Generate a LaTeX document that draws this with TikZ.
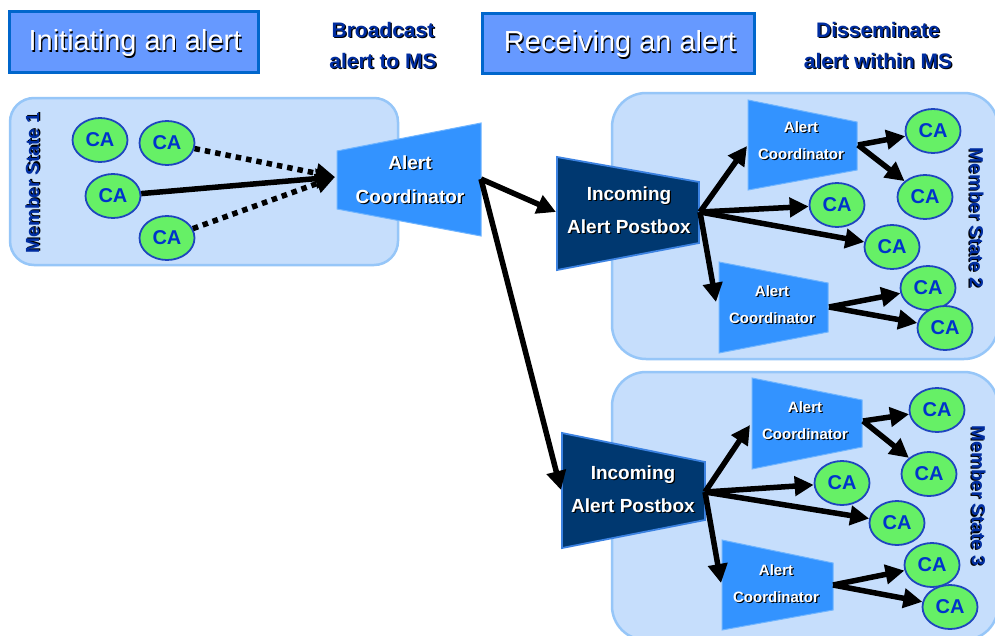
\documentclass[tikz,border=0pt]{standalone}
\usepackage{fontspec}
\setmainfont{Liberation Sans}
\usetikzlibrary{shapes.geometric,arrows.meta}

\definecolor{msfill}{RGB}{198,222,252}
\definecolor{msdraw}{RGB}{150,198,248}
\definecolor{titlefill}{RGB}{102,153,255}
\definecolor{titledraw}{RGB}{0,102,204}
\definecolor{acblue}{RGB}{51,147,255}
\definecolor{acedge}{RGB}{110,180,255}
\definecolor{pbnavy}{RGB}{0,56,112}
\definecolor{pbedge}{RGB}{60,130,225}
\definecolor{cagreen}{RGB}{102,240,102}
\definecolor{caborder}{RGB}{30,70,190}
\definecolor{catext}{RGB}{0,51,204}
\definecolor{headblue}{RGB}{0,45,160}

% text with a small dark drop shadow
\newcommand{\shd}[2][black]{\leavevmode\rlap{\kern1.2pt\raisebox{-1.2pt}{\textcolor{#1}{#2}}}#2}

\tikzset{
  msregion/.style={fill=msfill, draw=msdraw, line width=2.5pt, rounded corners=28pt},
  titlebox/.style={fill=titlefill, draw=titledraw, line width=3pt},
  titletext/.style={text=white, font=\fontsize{29}{34}\selectfont},
  headtext/.style={text=headblue, align=center, font=\fontsize{21}{31}\selectfont\bfseries},
  mslabel/.style={text=headblue, font=\fontsize{19}{22}\selectfont\bfseries},
  ca/.style={ellipse, fill=cagreen, draw=caborder, line width=1.8pt,
    minimum width=55pt, minimum height=44pt, inner sep=0pt, text=catext,
    font=\fontsize{20}{24}\selectfont\bfseries},
  acshape/.style={fill=acblue, draw=acedge, line width=1pt},
  pbshape/.style={fill=pbnavy, draw=pbedge, line width=1.8pt},
  bigtext/.style={text=white, align=center, font=\fontsize{19}{34}\selectfont\bfseries},
  pbtext/.style={text=white, align=center, font=\fontsize{19}{33}\selectfont\bfseries},
  smalltext/.style={text=white, align=center, font=\fontsize{15}{27}\selectfont\bfseries},
  flow/.style={line width=5.5pt, -{Triangle[length=19pt,width=19pt]}},
  dotflow/.style={flow, dash pattern=on 5.5pt off 5pt},
}

\begin{document}
\begin{tikzpicture}[x=1pt,y=-1pt]
\useasboundingbox (0,0) rectangle (995,635);
\fill[white] (0,0) rectangle (995,635);

% headings
\draw[titlebox] (9,11) rectangle (258,72);
\node[titletext] (initTitle) at (135,44) {\shd{Initiating an alert}};
\draw[titlebox] (482,13) rectangle (754,73);
\node[titletext] (recvTitle) at (620,45) {\shd{Receiving an alert}};
\node[headtext] (broadcast) at (383,46) {\shd{Broadcast}\\\shd{alert to MS}};
\node[headtext] (dissem) at (878,46) {\shd{Disseminate}\\\shd{alert within MS}};

% member state regions
\draw[msregion, rounded corners=24pt] (10,98) rectangle (398,265);
\draw[msregion, rounded corners=34pt] (612,93) rectangle (998,359);
\draw[msregion, rounded corners=34pt] (612,372) rectangle (998,640);
\node[mslabel, rotate=90] (ms1) at (33,183) {\shd{Member State 1}};
\node[mslabel, rotate=-90] (ms2) at (976,218) {\shd{Member State 2}};
\node[mslabel, rotate=-90] (ms3) at (978,496) {\shd{Member State 3}};

% central alert coordinator
\draw[acshape] (337,151) -- (481,123) -- (481,236) -- (337,209) -- cycle;
\node[bigtext] (acMain) at (410,180) {\shd{Alert}\\\shd{Coordinator}};
\coordinate (acMainIn) at (335,177);
\coordinate (acMainOut) at (481,179);

% incoming alert postboxes
\draw[pbshape] (557,157) -- (699,182) -- (699,243) -- (557,270) -- cycle;
\node[pbtext] (pb1) at (629,211) {\shd{Incoming}\\\shd{Alert Postbox}};
\coordinate (pb1In) at (556,212);
\coordinate (pb1Out) at (700,212);

\draw[pbshape] (562,433) -- (705,462) -- (705,520) -- (562,548) -- cycle;
\node[pbtext] (pb2) at (633,490) {\shd{Incoming}\\\shd{Alert Postbox}};
\coordinate (pb2In) at (561,490);
\coordinate (pb2Out) at (705,492);

% national alert coordinators
\draw[acshape] (748,100) -- (857,122) -- (857,170) -- (748,190) -- cycle;
\node[smalltext] (ac2a) at (801,141) {\shd{Alert}\\\shd{Coordinator}};
\coordinate (ac2aIn) at (747,146);
\coordinate (ac2aOut) at (858,145);

\draw[acshape] (719,262) -- (828,283) -- (828,332) -- (719,353) -- cycle;
\node[smalltext] (ac2b) at (772,305) {\shd{Alert}\\\shd{Coordinator}};
\coordinate (ac2bIn) at (716,302);
\coordinate (ac2bOut) at (829,307);

\draw[acshape] (752,378) -- (862,400) -- (862,447) -- (752,469) -- cycle;
\node[smalltext] (ac3a) at (805,421) {\shd{Alert}\\\shd{Coordinator}};
\coordinate (ac3aIn) at (750,425);
\coordinate (ac3aOut) at (863,421);

\draw[acshape] (722,540) -- (833,563) -- (833,610) -- (722,630) -- cycle;
\node[smalltext] (ac3b) at (776,584) {\shd{Alert}\\\shd{Coordinator}};
\coordinate (ac3bIn) at (721,583);
\coordinate (ac3bOut) at (833,585);

% competent authorities
\node[ca] (ca1a) at (100,140) {CA};
\node[ca] (ca1b) at (167,143) {CA};
\node[ca] (ca1c) at (113,196) {CA};
\node[ca] (ca1d) at (167,238) {CA};

\node[ca] (ca2a) at (933,131) {CA};
\node[ca] (ca2b) at (925,197) {CA};
\node[ca] (ca2c) at (837,205) {CA};
\node[ca] (ca2d) at (892,247) {CA};
\node[ca] (ca2e) at (928,288) {CA};
\node[ca] (ca2f) at (945,328) {CA};

\node[ca] (ca3a) at (937,410) {CA};
\node[ca] (ca3b) at (929,474) {CA};
\node[ca] (ca3c) at (842,483) {CA};
\node[ca] (ca3d) at (897,523) {CA};
\node[ca] (ca3e) at (932,565) {CA};
\node[ca] (ca3f) at (950,607) {CA};

% initiating the alert
\draw[dotflow] (ca1b) -- (acMainIn);
\draw[dotflow] (ca1d) -- (acMainIn);
\draw[flow] (ca1c) -- (acMainIn);

% broadcast to member states
\draw[flow] (acMainOut) -- (pb1In);
\draw[flow] (acMainOut) -- (pb2In);

% dissemination in member state 2
\draw[flow] (pb1Out) -- (ac2aIn);
\draw[flow] (pb1Out) -- (ca2c);
\draw[flow] (pb1Out) -- (ca2d);
\draw[flow] (pb1Out) -- (ac2bIn);
\draw[flow] (ac2aOut) -- (ca2a);
\draw[flow] (ac2aOut) -- (ca2b);
\draw[flow] (ac2bOut) -- (ca2e);
\draw[flow] (ac2bOut) -- (ca2f);

% dissemination in member state 3
\draw[flow] (pb2Out) -- (ac3aIn);
\draw[flow] (pb2Out) -- (ca3c);
\draw[flow] (pb2Out) -- (ca3d);
\draw[flow] (pb2Out) -- (ac3bIn);
\draw[flow] (ac3aOut) -- (ca3a);
\draw[flow] (ac3aOut) -- (ca3b);
\draw[flow] (ac3bOut) -- (ca3e);
\draw[flow] (ac3bOut) -- (ca3f);
\end{tikzpicture}
\end{document}
